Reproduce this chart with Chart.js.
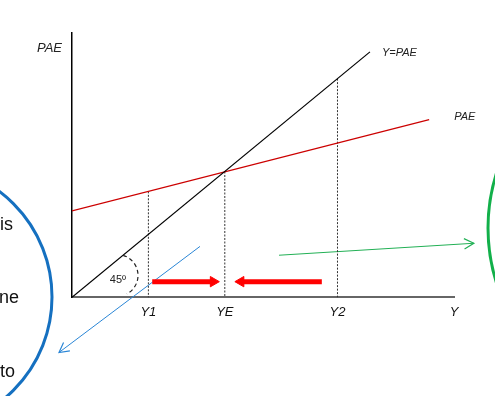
<!DOCTYPE html>
<html>
<head>
<meta charset="utf-8">
<script src="https://cdn.jsdelivr.net/npm/chart.js@4.4.0/dist/chart.umd.min.js"></script>
<style>
  body { margin: 0; background: #fff; }
  canvas { display: block; }
</style>
</head>
<body>
<canvas id="cross" width="495" height="396"></canvas>
<script>
// output Y on the bottom, planned aggregate expenditure PAE up the side
var yMax = 100;
var paeMax = 84;

// the 45 degree line, Y = PAE
var diagX = [0, 78];
var diagY = [0, 78];

// the PAE line
var paeX = [0, 93.5];
var paeY = [27.5, 56.5];

// output levels, and where each dotted drop line starts
var levelNames = ['Y1', 'YE', 'Y2', 'Y'];
var levelX = [20, 40, 69.5, 100];
var levelTop = [33.7, 40, 69.5];

// red arrows pushing output toward YE
var pushRightX = [21, 37];
var pushLeftX = [65.4, 44.2];
var pushLevel = [5, 5];

// blue and green pointer arrows (start, end)
var blueX = [33.5, -3.4];
var blueY = [16.2, -17.5];
var greenX = [54.2, 105.2];
var greenY = [13.4, 17.2];

function pts(xs, ys) {
    return xs.map(function (x, i) { return { x: x, y: ys[i] }; });
}

var datasets = [];

// the two main lines
datasets.push({ data: pts(diagX, diagY), borderColor: '#000', borderWidth: 1.2 });
datasets.push({ data: pts(paeX, paeY), borderColor: '#cc0000', borderWidth: 1.2 });

// dotted drop lines
for (var i = 0; i < levelTop.length; i++) {
    datasets.push({
        data: pts([levelX[i], levelX[i]], [levelTop[i], 0]),
        borderColor: '#333',
        borderWidth: 1,
        borderDash: [2, 1.5]
    });
}

// red push arrows, the head is a rotated triangle point
datasets.push({
    data: pts(pushRightX, pushLevel),
    borderColor: '#ff0000', borderWidth: 5,
    pointRadius: [0, 6], pointStyle: 'triangle', pointRotation: 90,
    pointBackgroundColor: '#ff0000', pointBorderColor: '#ff0000', pointBorderWidth: 1
});
datasets.push({
    data: pts(pushLeftX, pushLevel),
    borderColor: '#ff0000', borderWidth: 5,
    pointRadius: [0, 6], pointStyle: 'triangle', pointRotation: 270,
    pointBackgroundColor: '#ff0000', pointBorderColor: '#ff0000', pointBorderWidth: 1
});

// pointers that run off the plot
datasets.push({ data: pts(blueX, blueY), borderColor: '#2a86d6', borderWidth: 1, clip: false, pointer: true });
datasets.push({ data: pts(greenX, greenY), borderColor: '#22b055', borderWidth: 1, clip: false, pointer: true });

datasets.forEach(function (d) {
    d.showLine = true;
    d.tension = 0;
    if (d.pointRadius === undefined) d.pointRadius = 0;
});

function chevron(ctx, x0, y0, x1, y1, len) {
    var a = Math.atan2(y1 - y0, x1 - x0);
    ctx.beginPath();
    ctx.moveTo(x1 - len * Math.cos(a - 0.5), y1 - len * Math.sin(a - 0.5));
    ctx.lineTo(x1, y1);
    ctx.lineTo(x1 - len * Math.cos(a + 0.5), y1 - len * Math.sin(a + 0.5));
    ctx.stroke();
}

var extras = {
    id: 'extras',
    afterDraw: function (chart) {
        var ctx = chart.ctx;
        var xs = chart.scales.x, ys = chart.scales.y;
        var area = chart.chartArea;
        ctx.save();

        // open heads on the pointers
        chart.data.datasets.forEach(function (d) {
            if (!d.pointer) return;
            ctx.strokeStyle = d.borderColor;
            ctx.lineWidth = 1.2;
            chevron(ctx,
                xs.getPixelForValue(d.data[0].x), ys.getPixelForValue(d.data[0].y),
                xs.getPixelForValue(d.data[1].x), ys.getPixelForValue(d.data[1].y), 11);
        });

        // 45 degree mark
        var ox = xs.getPixelForValue(0), oy = ys.getPixelForValue(0);
        ctx.strokeStyle = '#222';
        ctx.lineWidth = 1.2;
        ctx.setLineDash([4, 3]);
        ctx.beginPath();
        ctx.arc(ox + 45, oy - 22, 21, -73 * Math.PI / 180, 62 * Math.PI / 180);
        ctx.stroke();
        ctx.setLineDash([]);

        ctx.fillStyle = '#222';
        ctx.textAlign = 'center';
        ctx.textBaseline = 'middle';
        ctx.font = '11px "Liberation Sans", Arial, sans-serif';
        ctx.fillText('45\u00ba', ox + 46, oy - 17);

        // axis and line labels
        ctx.font = 'italic 13px "Liberation Sans", Arial, sans-serif';
        ctx.textAlign = 'right';
        ctx.fillText('PAE', area.left - 10, area.top + 15);

        ctx.font = 'italic 11px "Liberation Sans", Arial, sans-serif';
        ctx.textAlign = 'left';
        ctx.fillText('Y=PAE', xs.getPixelForValue(diagX[1]) + 12, ys.getPixelForValue(diagY[1]) + 1);
        ctx.fillText('PAE', xs.getPixelForValue(paeX[1]) + 25, ys.getPixelForValue(paeY[1]) - 3);

        // slide callouts cut off at the edges
        ctx.lineWidth = 3;
        ctx.strokeStyle = '#1570c0';
        ctx.beginPath();
        ctx.arc(-80, 297, 132, 0, Math.PI * 2);
        ctx.stroke();
        ctx.strokeStyle = '#12b04a';
        ctx.beginPath();
        ctx.arc(670, 228, 182, 0, Math.PI * 2);
        ctx.stroke();

        ctx.fillStyle = '#111';
        ctx.font = '18px "Liberation Sans", Arial, sans-serif';
        ctx.textBaseline = 'alphabetic';
        ctx.fillText('is', 0, 230);
        ctx.fillText('ne', -1, 303);
        ctx.fillText('to', 0, 377);

        ctx.restore();
    }
};

new Chart(document.getElementById('cross'), {
    type: 'scatter',
    data: { datasets: datasets },
    options: {
        responsive: false,
        animation: false,
        devicePixelRatio: 1,
        layout: { padding: { left: 72, right: 41, top: 33, bottom: 69 } },
        plugins: { legend: { display: false }, tooltip: { enabled: false } },
        scales: {
            x: {
                type: 'linear', min: 0, max: yMax,
                grid: { display: false, drawTicks: false },
                border: { color: '#666', width: 2 },
                afterBuildTicks: function (scale) {
                    scale.ticks = levelX.map(function (v) { return { value: v }; });
                },
                ticks: {
                    autoSkip: false, maxRotation: 0, padding: 7,
                    color: '#111',
                    font: { family: '"Liberation Sans", Arial, sans-serif', size: 13, style: 'italic' },
                    callback: function (value, index) { return levelNames[index]; }
                }
            },
            y: {
                type: 'linear', min: 0, max: paeMax,
                grid: { display: false, drawTicks: false },
                border: { color: '#000', width: 1.5 },
                ticks: { display: false }
            }
        }
    },
    plugins: [extras]
});
</script>
</body>
</html>
